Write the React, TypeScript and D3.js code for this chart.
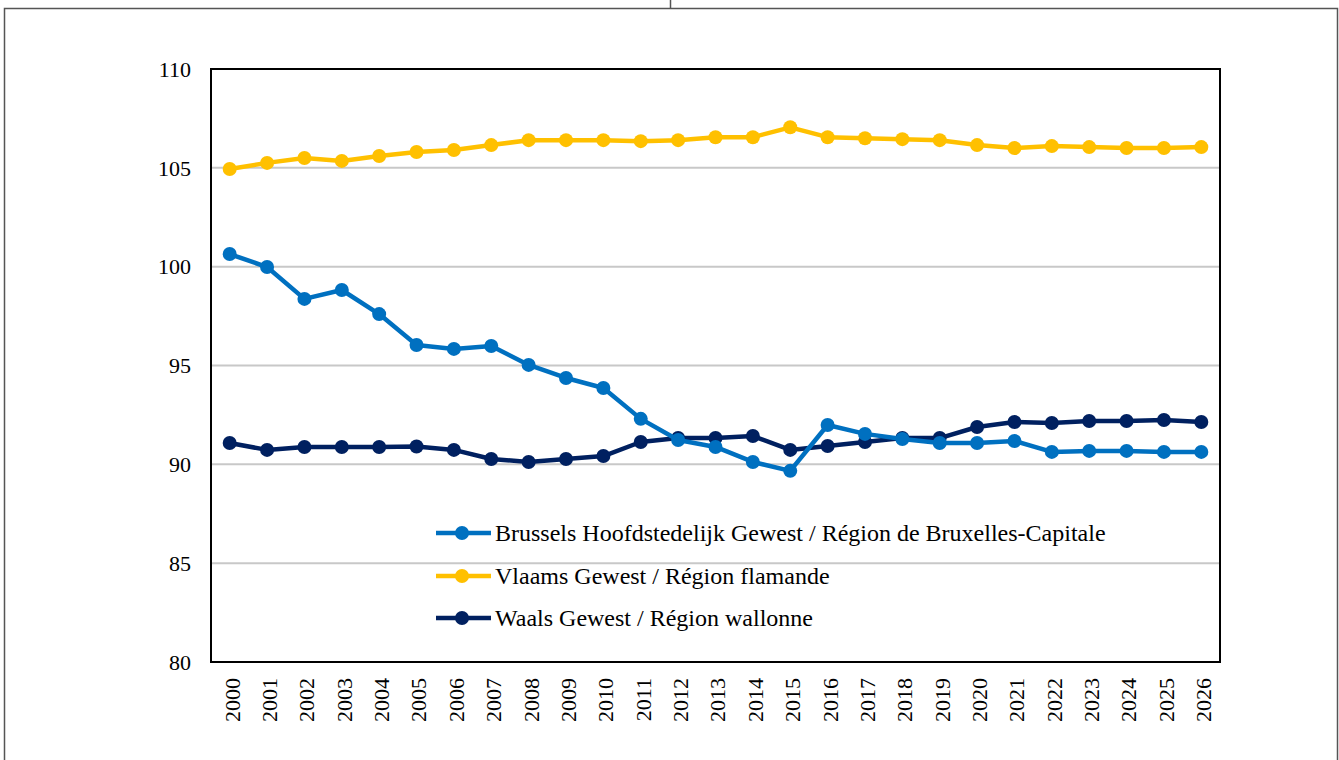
import React from "react";
import * as d3 from "d3";

const years = d3.range(2000, 2027).map(String);
const brussels = [100.64, 99.98, 98.37, 98.82, 97.6, 96.04, 95.84, 95.99, 95.03, 94.37, 93.86, 92.3, 91.23, 90.88, 90.12, 89.67, 91.99, 91.54, 91.28, 91.08, 91.08, 91.18, 90.63, 90.68, 90.68, 90.63, 90.63];
const vlaams = [104.94, 105.25, 105.5, 105.35, 105.6, 105.8, 105.9, 106.15, 106.4, 106.4, 106.4, 106.35, 106.4, 106.55, 106.55, 107.05, 106.55, 106.5, 106.45, 106.4, 106.15, 106.0, 106.1, 106.05, 106.0, 106.0, 106.05];
const waals = [91.08, 90.73, 90.88, 90.88, 90.88, 90.9, 90.73, 90.27, 90.12, 90.27, 90.42, 91.13, 91.33, 91.33, 91.43, 90.73, 90.93, 91.13, 91.33, 91.33, 91.89, 92.14, 92.09, 92.19, 92.19, 92.24, 92.14];
const yTicks = [80, 85, 90, 95, 100, 105, 110];
const seriesNames = [
  "Brussels Hoofdstedelijk Gewest / Région de Bruxelles-Capitale",
  "Vlaams Gewest / Région flamande",
  "Waals Gewest / Région wallonne",
];
const seriesColors = ["#0070C0", "#FFC000", "#002060"];

export default function App() {
  const W = 1339, H = 760;
  const left = 211, right = 1220, top = 69, bottom = 662;
  const x = d3.scaleBand<string>().domain(years).range([left, right]);
  const y = d3.scaleLinear().domain([80, 110]).range([bottom, top]);
  const cx = (i: number) => (x(years[i]) as number) + x.bandwidth() / 2;
  const line = d3.line<number>().x((_, i) => cx(i)).y((d) => y(d));
  const all = [brussels, vlaams, waals];
  const font = "'Liberation Serif', 'Times New Roman', serif";
  const order = [1, 2, 0];
  return (
    <svg width={W} height={H} style={{ position: "absolute", left: 0, top: 0, background: "#fff" }}>
      <rect x={0} y={0} width={W} height={H} fill="#fff" />
      <path d={`M4.5,${H} V8.5 H1337.5 V${H}`} fill="none" stroke="#555" strokeWidth={1.5} />
      <line x1={670.5} x2={670.5} y1={0} y2={8.5} stroke="#555" strokeWidth={1.5} />
      {yTicks.filter((t) => t !== 80 && t !== 110).map((t) => (
        <line key={t} x1={left} x2={right} y1={y(t)} y2={y(t)} stroke="#c8c8c8" strokeWidth={2} />
      ))}
      <rect x={left} y={top} width={right - left} height={bottom - top} fill="none" stroke="#000" strokeWidth={2} />
      {yTicks.map((t) => (
        <text key={t} x={191} y={y(t)} dy="0.35em" textAnchor="end" fontFamily={font} fontSize={22} fill="#000">
          {t}
        </text>
      ))}
      {years.map((yr, i) => (
        <text key={yr} transform={`translate(${cx(i)},678) rotate(-90)`} dy="0.45em" textAnchor="end" fontFamily={font} fontSize={22} fill="#000">
          {yr}
        </text>
      ))}
      {order.map((k) => (
        <g key={k}>
          <path d={line(all[k]) || ""} fill="none" stroke={seriesColors[k]} strokeWidth={4.5} strokeLinejoin="round" />
          {all[k].map((v, i) => (
            <circle key={i} cx={cx(i)} cy={y(v)} r={7} fill={seriesColors[k]} />
          ))}
        </g>
      ))}
      {seriesNames.map((n, k) => {
        const ly = [533, 576, 618][k];
        return (
          <g key={n}>
            <line x1={436} x2={491} y1={ly} y2={ly} stroke={seriesColors[k]} strokeWidth={4.5} />
            <circle cx={462} cy={ly} r={7} fill={seriesColors[k]} />
            <text x={495} y={ly} dy="0.35em" fontFamily={font} fontSize={24} fill="#000">
              {n}
            </text>
          </g>
        );
      })}
    </svg>
  );
}
